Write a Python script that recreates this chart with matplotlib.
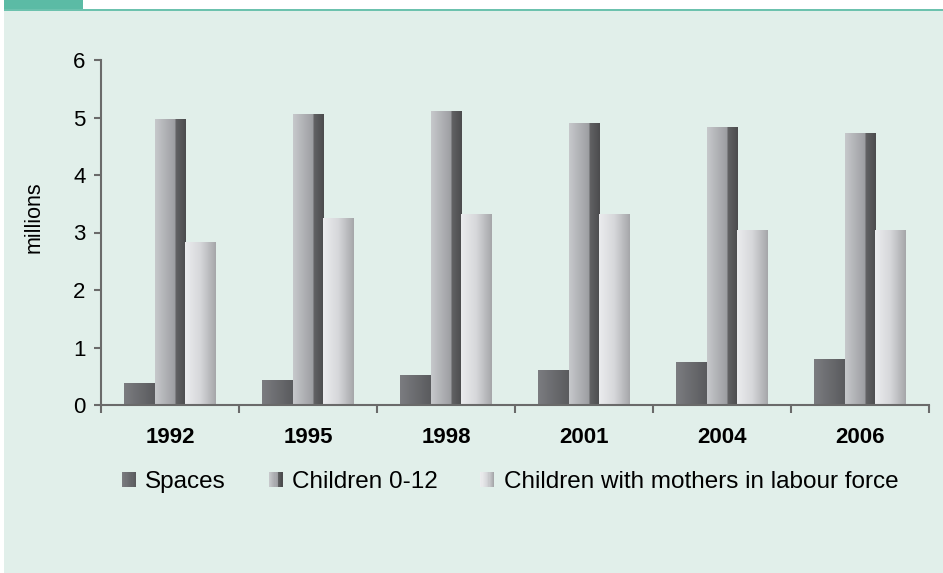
import numpy as np
import matplotlib.pyplot as plt
from matplotlib.patches import Rectangle
from matplotlib.colors import to_rgb
from matplotlib.legend_handler import HandlerBase

plt.rcParams['font.family'] = ['Liberation Sans', 'DejaVu Sans']

years = ['1992', '1995', '1998', '2001', '2004', '2006']
spaces = [0.38, 0.42, 0.52, 0.60, 0.74, 0.80]
children = [4.96, 5.06, 5.10, 4.90, 4.82, 4.72]
mothers = [2.82, 3.25, 3.32, 3.32, 3.03, 3.03]
labels = ['Spaces', 'Children 0-12', 'Children with mothers in labour force']

bg = '#e1efea'


def gradient(stops, n=64):
    """horizontal colour ramp from (pos, colour) stops"""
    pos = np.linspace(0, 1, n)
    p = [s[0] for s in stops]
    cols = np.array([to_rgb(s[1]) for s in stops])
    rgb = np.stack([np.interp(pos, p, cols[:, k]) for k in range(3)], axis=-1)
    return rgb[np.newaxis, :, :]


ramps = [
    gradient([(0, '#7b7c80'), (1, '#5a5b5e')]),
    gradient([(0, '#c6c8cb'), (0.66, '#9c9da1'), (0.67, '#626365'), (1, '#4c4c4e')]),
    gradient([(0, '#ebecee'), (0.5, '#d6d7da'), (1, '#a6a7aa')]),
]


class GradHandler(HandlerBase):
    # legend swatch made of thin stripes so it shows the ramp too
    def __init__(self, ramp):
        super().__init__()
        self.ramp = ramp

    def create_artists(self, legend, orig_handle, xdescent, ydescent, width, height, fontsize, trans):
        n = 12
        arts = []
        for k in range(n):
            c = self.ramp[0, int(k * (self.ramp.shape[1] - 1) / (n - 1))]
            arts.append(Rectangle((-xdescent + k * width / n, -ydescent), width / n * 1.05, height,
                                  facecolor=c, edgecolor='none', transform=trans))
        return arts


fig = plt.figure(figsize=(9.43, 5.73), dpi=100, facecolor=bg)
ax = fig.add_axes([101 / 943, 1 - 405 / 573, 828 / 943, 345 / 573])
ax.set_facecolor(bg)

x = np.arange(len(years))
w = 0.222
for i, vals in enumerate([spaces, children, mothers]):
    bars = ax.bar(x + (i - 1) * w, vals, w, color='none', linewidth=0, zorder=2)
    for b in bars:
        bx, by = b.get_x(), b.get_y()
        ax.imshow(ramps[i], extent=[bx, bx + b.get_width(), by, by + b.get_height()],
                  aspect='auto', interpolation='bilinear', zorder=2)

ax.set_xlim(-0.5, len(years) - 0.5)
ax.set_ylim(0, 6)
ax.set_yticks(range(0, 7))
ax.set_xticks(np.arange(len(years) + 1) - 0.5)
ax.set_xticklabels([])
ax.set_xticks(x, minor=True)
ax.set_xticklabels(years, minor=True, fontsize=16, fontweight='bold')
ax.tick_params(axis='x', which='minor', length=0, pad=16)
ax.tick_params(axis='x', which='major', length=6, width=1.5, color='#6a6a6a', direction='out')
ax.tick_params(axis='y', length=5, width=1.5, color='#6a6a6a', labelsize=16, pad=6)
for s in ['top', 'right']:
    ax.spines[s].set_visible(False)
for s in ['left', 'bottom']:
    ax.spines[s].set_color('#6a6a6a')
    ax.spines[s].set_linewidth(1.5)
ax.set_ylabel('millions', fontsize=15.5)
ax.yaxis.set_label_coords(-0.068, 0.545)

# legend swatches
handles = [Rectangle((0, 0), 1, 1) for i in range(3)]
hmap = {handles[i]: GradHandler(ramps[i]) for i in range(3)}
leg = ax.legend(handles, labels, handler_map=hmap, loc='upper center',
                bbox_to_anchor=(0.494, -0.128), ncol=3, frameon=False, fontsize=17.5,
                handlelength=0.58, handleheight=0.58, handletextpad=0.38, columnspacing=1.75)

# header strip
fig.patches.append(Rectangle((0, 1 - 11 / 573), 1, 11 / 573, transform=fig.transFigure,
                             facecolor='white', edgecolor='none'))
fig.patches.append(Rectangle((0, 0), 4 / 943, 1, transform=fig.transFigure,
                             facecolor='white', edgecolor='none'))
fig.patches.append(Rectangle((4 / 943, 1 - 9 / 573), 79 / 943, 9 / 573, transform=fig.transFigure,
                             facecolor='#5bbba5', edgecolor='none'))
fig.patches.append(Rectangle((4 / 943, 1 - 11 / 573), 939 / 943, 2 / 573, transform=fig.transFigure,
                             facecolor='#6cc2ae', edgecolor='none'))

fig.savefig('out.png', dpi=100, facecolor=bg)
